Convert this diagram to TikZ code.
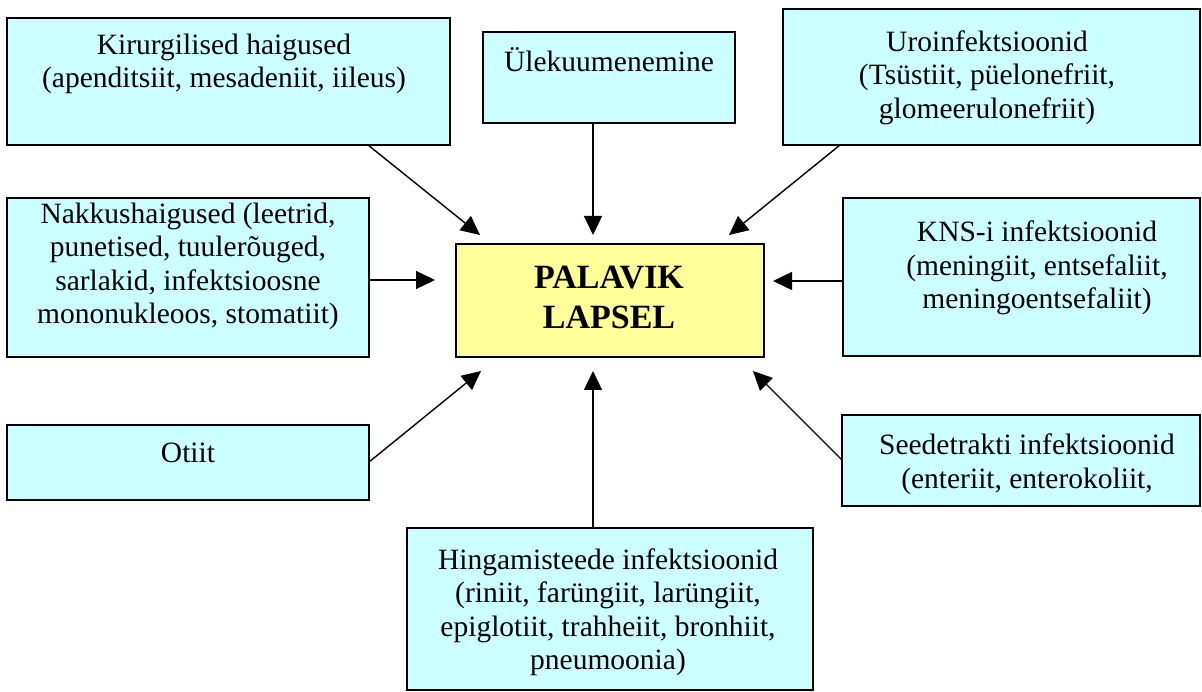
\documentclass[tikz,border=0pt]{standalone}
\usepackage{fontspec}
\setmainfont{Liberation Serif}
\usetikzlibrary{arrows.meta}
\definecolor{boxcyan}{HTML}{CCFFFF}
\definecolor{boxyellow}{HTML}{FFFF99}
\begin{document}
\begin{tikzpicture}[x=1pt,y=-1pt,
  cause/.style={draw=black,line width=1.6pt,fill=boxcyan,rectangle,anchor=north west,outer sep=0pt,inner sep=0pt},
  centre/.style={cause,fill=boxyellow},
  label/.style={anchor=north,inner sep=0pt,align=center,font={\fontsize{29.5}{33.5}\selectfont}},
  biglabel/.style={anchor=north,inner sep=0pt,align=center,font={\fontsize{34}{40}\selectfont\bfseries}},
  arr/.style={line width=1.4pt,-{Triangle[length=19pt,width=18pt]}}]
\useasboundingbox (0,0) rectangle (1202,692);
\clip (0,0) rectangle (1202,692);
\fill[white] (0,0) rectangle (1202,692);

% boxes
\node[cause,minimum width=443,minimum height=127] (kir) at (7,18) {};
\node[cause,minimum width=252,minimum height=91]  (ule) at (483,32) {};
\node[cause,minimum width=417,minimum height=136] (uro) at (783,9) {};
\node[cause,minimum width=362,minimum height=159] (nak) at (7,198) {};
\node[centre,minimum width=308,minimum height=113] (pal) at (456,244) {};
\node[cause,minimum width=357,minimum height=158] (kns) at (843,198) {};
\node[cause,minimum width=362,minimum height=75]  (oti) at (7,425) {};
\node[cause,minimum width=358,minimum height=91]  (see) at (842,415) {};
\node[cause,minimum width=406,minimum height=162] (hin) at (407,528) {};

% texts (the strut fixes the first baseline 27pt below the node top)
\def\firstline{\rule{0pt}{27pt}}
\node[label] (kirT) at (224,27) {\firstline Kirurgilised haigused\\(apenditsiit, mesadeniit, iileus)};
\node[label] (uleT) at (609,44.5) {\firstline Ülekuumenemine};
\node[label] (uroT) at (987,24) {\firstline Uroinfektsioonid\\(Tsüstiit, püelonefriit,\\glomeerulonefriit)};
\node[label] (nakT) at (188,196) {\firstline Nakkushaigused (leetrid,\\punetised, tuulerõuged,\\sarlakid, infektsioosne\\mononukleoos, stomatiit)};
\node[biglabel] (palT) at (609,258) {\rule{0pt}{30pt}PALAVIK\\LAPSEL};
\node[label] (knsT) at (1037,214.5) {\firstline KNS-i infektsioonid\\(meningiit, entsefaliit,\\meningoentsefaliit)};
\node[label] (otiT) at (188,435) {\firstline Otiit};
\node[label] (seeT) at (1027,427.5) {\firstline Seedetrakti infektsioonid\\(enteriit, enterokoliit,};
\node[label] (hinT) at (608,542) {\firstline Hingamisteede infektsioonid\\(riniit, farüngiit, larüngiit,\\epiglotiit, trahheiit, bronhiit,\\pneumoonia)};

% connectors
\draw[arr] ([xshift=361pt]kir.south west) -- ([xshift=24pt,yshift=9pt]pal.north west);
\draw[arr] ([xshift=110pt]ule.south west) -- ([xshift=137pt,yshift=9pt]pal.north west);
\draw[arr] ([xshift=57pt]uro.south west) -- ([xshift=273pt,yshift=9pt]pal.north west);
\draw[arr] ([yshift=-82pt]nak.north east) -- ([xshift=-21pt,yshift=-36pt]pal.north west);
\draw[arr] ([yshift=-83pt]kns.north west) -- ([xshift=9pt,yshift=-37pt]pal.north east);
\draw[arr] ([yshift=-37pt]oti.north east) -- ([xshift=25pt,yshift=-14pt]pal.south west);
\draw[arr] ([yshift=-45pt]see.north west) -- ([xshift=-11pt,yshift=-14pt]pal.south east);
\draw[arr] ([xshift=186pt]hin.north west) -- ([xshift=137pt,yshift=-14pt]pal.south west);
\end{tikzpicture}
\end{document}
